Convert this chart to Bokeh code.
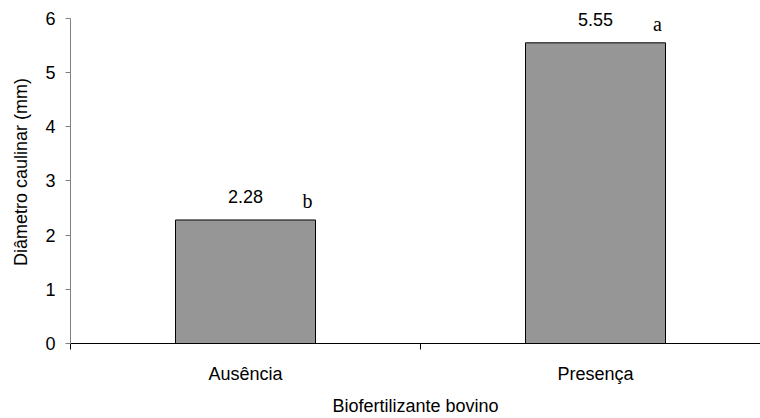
from bokeh.plotting import figure
from bokeh.models import Range1d, FixedTicker, ColumnDataSource
from bokeh.core.properties import value
from bokeh.embed import file_html
from bokeh.resources import INLINE

# ---- data ----
categories = ["Ausência", "Presença"]
diametro = [2.28, 5.55]
value_labels = ["2.28", "5.55"]
letters = ["b", "a"]
y_ticks = [0, 1, 2, 3, 4, 5, 6]
y_max = 6

xpos = [i + 0.5 for i in range(len(categories))]
src = ColumnDataSource(dict(x=xpos, top=diametro, lab=value_labels, let=letters))

W, H = 760, 418
FRAME_BOTTOM = 344   # px from top
AXIS_TOP = 18        # px from top where y = y_max
p = figure(width=W, height=H, output_backend="svg", toolbar_location=None,
           x_range=Range1d(0, 690 / 350),
           y_range=Range1d(0, y_max * FRAME_BOTTOM / (FRAME_BOTTOM - AXIS_TOP)),
           min_border_left=70, min_border_right=0, min_border_top=0,
           min_border_bottom=H - FRAME_BOTTOM)
p.outline_line_color = None
p.xgrid.visible = False
p.ygrid.visible = False
p.background_fill_color = "white"

p.vbar(x="x", top="top", width=0.4, source=src, fill_color="#969696",
       line_color="black", line_width=1)

FONT = "Liberation Sans"
FS = "18px"
p.text(x="x", y="top", text="lab", source=src, text_align="center",
       text_baseline="alphabetic", y_offset=-23, text_font=value(FONT),
       text_font_size=FS, text_color="black")
p.text(x="x", y="top", text="let", source=src, text_align="center",
       text_baseline="alphabetic", x_offset=62, y_offset=-19,
       text_font=value("Liberation Serif"), text_font_size="20px", text_color="black")

# x axis
xa = p.xaxis[0]
xa.ticker = FixedTicker(ticks=xpos, minor_ticks=[0, 1, 2])
xa.major_label_overrides = {x: c for x, c in zip(xpos, categories)}
xa.major_tick_out = 0
xa.major_tick_in = 0
xa.minor_tick_out = 6
xa.minor_tick_in = 0
xa.minor_tick_line_color = "black"
xa.axis_line_color = "black"
xa.major_label_standoff = 14
xa.major_label_text_font = FONT
xa.major_label_text_font_size = FS
xa.major_label_text_color = "black"
xa.axis_label = "Biofertilizante bovino"
xa.axis_label_text_font = FONT
xa.axis_label_text_font_size = FS
xa.axis_label_text_font_style = "normal"
xa.axis_label_text_color = "black"
xa.axis_label_standoff = 9

# y axis
ya = p.yaxis[0]
ya.bounds = (0, y_max)
ya.ticker = FixedTicker(ticks=y_ticks, minor_ticks=[])
ya.axis_line_color = "#808080"
ya.major_tick_line_color = "#808080"
ya.major_tick_out = 5
ya.major_tick_in = 0
ya.minor_tick_out = 0
ya.minor_tick_in = 0
ya.major_label_standoff = 10
ya.major_label_text_font = FONT
ya.major_label_text_font_size = FS
ya.major_label_text_color = "black"
ya.axis_label = "Diâmetro caulinar (mm)"
ya.axis_label_text_font = FONT
ya.axis_label_text_font_size = FS
ya.axis_label_text_font_style = "normal"
ya.axis_label_text_color = "black"
ya.axis_label_standoff = 11

open("out.html", "w").write(file_html(p, INLINE))
